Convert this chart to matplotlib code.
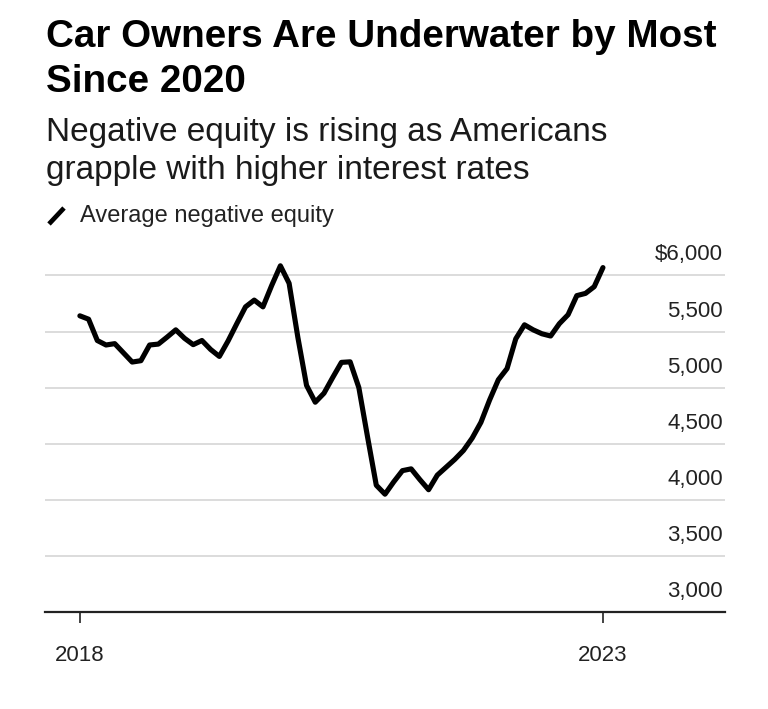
import matplotlib
matplotlib.use("Agg")
import matplotlib.pyplot as plt
from matplotlib.lines import Line2D
import matplotlib.transforms as mtransforms

plt.rcParams['font.family'] = ['Liberation Sans', 'DejaVu Sans']

# Monthly average negative equity, Jan 2018 .. Jan 2023
months = list(range(61))
values = [5640, 5610, 5420, 5380, 5392, 5310, 5228, 5240, 5380, 5388,
          5450, 5515, 5440, 5383, 5420, 5340, 5278, 5416, 5570, 5720,
          5780, 5720, 5910, 6086, 5930, 5450, 5020, 4870, 4950, 5090,
          5225, 5230, 5000, 4560, 4130, 4050, 4160, 4260, 4276, 4180,
          4090, 4220, 4290, 4360, 4440, 4550, 4690, 4890, 5070, 5170,
          5435, 5560, 5515, 5480, 5460, 5570, 5650, 5820, 5840, 5900,
          6070]
x_ticks = [0, 60]
x_tick_labels = ["2018", "2023"]
y_ticks = [3000, 3500, 4000, 4500, 5000, 5500, 6000]
y_tick_labels = ["3,000", "3,500", "4,000", "4,500", "5,000", "5,500", "$6,000"]

title_lines = ["Car Owners Are Underwater by Most", "Since 2020"]
subtitle_lines = ["Negative equity is rising as Americans",
                  "grapple with higher interest rates"]
legend_label = "Average negative equity"

W, H = 768, 709
fig = plt.figure(figsize=(W / 100, H / 100), dpi=100)
fig.patch.set_facecolor("white")

ax = fig.add_axes([45 / W, 1 - 612 / H, (725 - 45) / W, (612 - 253) / H])
ax.set_facecolor("white")

for v in y_ticks[1:]:
    ax.axhline(v, color="#d9d9d9", lw=1.3, zorder=1)

ax.plot(months, values, color="black", lw=3.7, solid_joinstyle="round",
        solid_capstyle="round", zorder=3)

ax.set_xlim(-4, 74)
ax.set_ylim(3000, 6200)

for s in ["top", "right", "left"]:
    ax.spines[s].set_visible(False)
ax.spines["bottom"].set_color("#222222")
ax.spines["bottom"].set_linewidth(1.6)

ax.set_yticks([])
ax.set_xticks(x_ticks)
ax.set_xticklabels(x_tick_labels, fontsize=16, color="#222222")
ax.tick_params(axis="x", length=8, width=1.2, color="#222222", pad=16)

trans = mtransforms.blended_transform_factory(ax.transAxes, ax.transData)
trans = trans + mtransforms.ScaledTranslation(0, 15 / 100, fig.dpi_scale_trans)
for v, lab in zip(y_ticks, y_tick_labels):
    ax.text(0.997, v, lab, transform=trans, ha="right", va="baseline",
            fontsize=16, color="#222222")

# Title, subtitle, legend
for line, base in zip(title_lines, [47, 92]):
    fig.text(46 / W, 1 - base / H, line, ha="left", va="baseline",
             fontsize=27.8, fontweight="bold", color="black")
for line, base in zip(subtitle_lines, [141, 179]):
    fig.text(46 / W, 1 - base / H, line, ha="left", va="baseline",
             fontsize=24, color="#1a1a1a")

fig.add_artist(Line2D([49 / W, 64 / W], [1 - 224 / H, 1 - 208 / H],
                      transform=fig.transFigure, color="black", lw=3.4,
                      solid_capstyle="butt"))
fig.text(80 / W, 1 - 216 / H, legend_label, ha="left", va="center",
         fontsize=17, color="#222222")

fig.savefig("out.png", dpi=100, facecolor="white")
